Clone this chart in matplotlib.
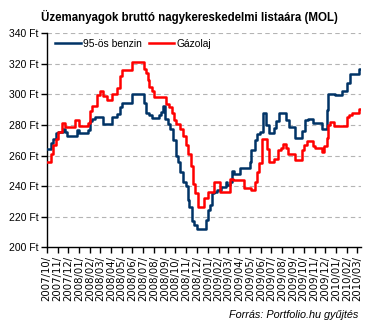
import numpy as np
import pandas as pd
import matplotlib
matplotlib.use('Agg')
import matplotlib.pyplot as plt
import matplotlib.dates as mdates

# list-price change points: days since 2007-10-01 and price (Ft)
start = pd.Timestamp('2007-10-01')

benzin_days = [0, 11, 19, 26, 33, 45, 51, 57, 85, 92, 118, 124, 130, 137, 161, 187, 200, 208,
               215, 244, 276, 283, 291, 300, 320, 325, 331, 337, 346, 352, 359, 367, 374, 380,
               388, 395, 401, 406, 414, 420, 427, 452, 458, 463, 471, 476, 484, 495, 509, 514,
               520, 526, 533, 550, 577, 582, 592, 599, 607, 614, 624, 631, 646, 652, 660, 680,
               688, 707, 727, 734, 743, 756, 782, 797, 801, 819, 841, 855, 862, 887, 893]
benzin_price = [264, 268, 271, 274.5, 275.5, 277.5, 275.5, 273, 277, 275, 277, 282.5, 284, 285,
                280.5, 285, 287.5, 292, 294.5, 300, 294.5, 288, 286.5, 284.5, 286.5, 288.5, 292.5,
                284, 280.5, 277.5, 270.5, 260, 256, 249.5, 243, 240, 231, 226.5, 217, 214.5, 212,
                218, 224.5, 227.5, 235.5, 236.5, 237.5, 239.5, 243, 241, 243, 250, 248, 252, 256,
                263.5, 270.5, 274, 275.5, 288, 280, 274.5, 278, 282.5, 288, 283.5, 279, 271.5,
                276, 283, 284, 281, 277.5, 290, 300.5, 299.5, 302, 307.5, 313.5, 316.5, 316.5]

gazolaj_days = [0, 11, 19, 26, 32, 43, 52, 80, 93, 118, 123, 130, 143, 151, 161, 172, 185, 199,
                208, 214, 244, 276, 281, 287, 292, 300, 304, 338, 347, 355, 361, 368, 380, 387,
                395, 402, 410, 415, 423, 429, 448, 459, 476, 492, 520, 529, 562, 582, 592, 598,
                604, 612, 626, 631, 645, 658, 665, 673, 680, 686, 707, 726, 733, 741, 756, 762,
                782, 790, 796, 801, 805, 818, 853, 860, 867, 887, 893]
gazolaj_price = [255.5, 261, 267, 271, 275.5, 281.5, 278.5, 283.5, 279.5, 281, 289, 292.5, 299.5,
                 302.5, 299, 296.5, 300.5, 304, 312, 316, 321.5, 316.5, 314, 309.5, 305, 302,
                 298.5, 294, 291.5, 288, 283.5, 280.5, 277.5, 273, 267, 261, 253.5, 241.5, 235.5,
                 226.5, 232, 236.5, 242.5, 236.5, 245, 244, 239, 237.5, 243, 249.5, 255, 271, 264,
                 256, 258, 263.5, 265, 267.5, 265, 261, 257, 263.5, 267, 269.5, 266.5, 265, 262.5,
                 266, 271.5, 280, 282, 279.5, 285, 286.5, 288, 290.5, 290.5]

y_ticks = [200, 220, 240, 260, 280, 300, 320, 340]

plt.rcParams['font.family'] = ['Liberation Sans', 'DejaVu Sans']

fig = plt.figure(figsize=(3.68, 3.24), dpi=100)
ax = fig.add_axes([0.1269, 0.2367, 0.8533, 0.6605])

bx = start + pd.to_timedelta(benzin_days, unit='D')
gx = start + pd.to_timedelta(gazolaj_days, unit='D')
ax.plot(bx, benzin_price, drawstyle='steps-post', color='#003366', lw=1.8, label='95-ös benzin', zorder=3)
ax.plot(gx, gazolaj_price, drawstyle='steps-post', color='#ff0000', lw=1.8, label='Gázolaj', zorder=3)

ax.set_ylim(200, 340)
ax.set_yticks(y_ticks)
ax.set_yticklabels([f'{v} Ft' for v in y_ticks], fontsize=7.5)
ax.set_xlim(start, start + pd.Timedelta(days=893))
ax.xaxis.set_major_locator(mdates.MonthLocator())
ax.xaxis.set_major_formatter(mdates.DateFormatter('%Y/%m/'))
for lbl in ax.get_xticklabels():
    lbl.set_rotation(90)
    lbl.set_fontsize(7.3)
    lbl.set_family('DejaVu Sans')

for v in y_ticks[1:]:
    ax.axhline(v, color='#b4b4b4', lw=0.8, ls=(0, (4, 3)), zorder=1)

ax.spines['top'].set_visible(False)
ax.spines['right'].set_visible(False)
ax.spines['left'].set_linewidth(1)
ax.spines['bottom'].set_linewidth(1)
ax.tick_params(axis='both', direction='out', length=4, width=1, color='black', pad=2)

ax.legend(loc='upper left', bbox_to_anchor=(0.026, 0.975), ncol=2, frameon=False,
          fontsize=7.4, handlelength=2.5, handletextpad=0.2, columnspacing=0.7, borderpad=0,
          borderaxespad=0)

fig.text(0.515, 1 - 16.5 / 324, 'Üzemanyagok bruttó nagykereskedelmi listaára (MOL)',
         ha='center', va='center', fontsize=8.3, fontweight='bold')
fig.text(358 / 368, 1 - 315 / 324, 'Forrás: Portfolio.hu gyűjtés', ha='right', va='center',
         fontsize=7.8, style='italic')

fig.savefig('out.png', dpi=100)
